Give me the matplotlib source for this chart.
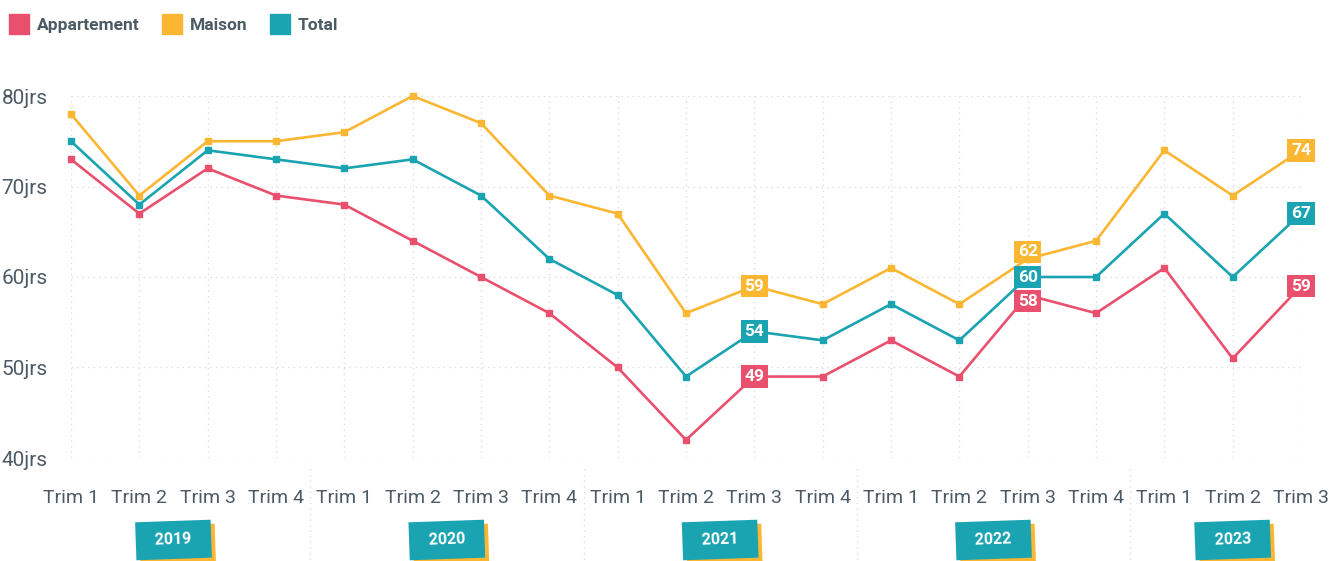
import matplotlib.pyplot as plt
import matplotlib.transforms as mtransforms
from matplotlib.lines import Line2D
import numpy as np

plt.rcParams['font.family'] = ['Roboto', 'DejaVu Sans']

# Data
quarters = ["Trim 1", "Trim 2", "Trim 3", "Trim 4"] * 4 + ["Trim 1", "Trim 2", "Trim 3"]
years = ["2019", "2020", "2021", "2022", "2023"]
year_quarters = [4, 4, 4, 4, 3]
appartement = [73, 67, 72, 69, 68, 64, 60, 56, 50, 42, 49, 49, 53, 49, 58, 56, 61, 51, 59]
maison = [78, 69, 75, 75, 76, 80, 77, 69, 67, 56, 59, 57, 61, 57, 62, 64, 74, 69, 74]
total = [75, 68, 74, 73, 72, 73, 69, 62, 58, 49, 54, 53, 57, 53, 60, 60, 67, 60, 67]
labelled = [10, 14, 18]

RED = "#e9506e"
YELLOW = "#fbb632"
TEAL = "#1aa3b0"
TXT = "#4b5a64"
GRID = "#dcdcdc"

W, H = 1336, 561
fig = plt.figure(figsize=(W / 100, H / 100), dpi=100)
ax = fig.add_axes([71 / W, 103 / H, 1230 / W, 362 / H])

x = np.arange(len(quarters))
series = [("Appartement", appartement, RED), ("Maison", maison, YELLOW), ("Total", total, TEAL)]
for name, vals, col in series:
    ax.plot(x, vals, color=col, lw=1.9, marker='s', ms=4.5, clip_on=False, zorder=3, label=name)

# value labels (nudged apart where they would collide)
offs = {(14, "Maison"): 7, (14, "Appartement"): -6}
for name, vals, col in series:
    for i in labelled:
        dy = offs.get((i, name), 0)
        tr = mtransforms.offset_copy(ax.transData, fig=fig, x=0, y=dy, units='dots')
        ax.text(x[i], vals[i], str(vals[i]), transform=tr, ha='center', va='center',
                fontsize=12.5, fontweight='bold', color='white', zorder=5,
                bbox=dict(boxstyle='square,pad=0.22', fc=col, ec='none'))

ax.set_xlim(0, len(quarters) - 1)
ax.set_ylim(40, 80)
ax.set_yticks([40, 50, 60, 70, 80])
ax.set_yticklabels([f"{v}jrs" for v in [40, 50, 60, 70, 80]])
ax.set_xticks(x)
ax.set_xticklabels(quarters)
ax.tick_params(axis='y', length=0, pad=17, labelsize=15, labelcolor=TXT)
ax.tick_params(axis='x', length=0, pad=22, labelsize=14, labelcolor=TXT)
ax.grid(True, color=GRID, ls=(0, (1, 3)), lw=1)
for s in ax.spines.values():
    s.set_visible(False)

# year separators and year boxes
bt = mtransforms.blended_transform_factory(ax.transData, ax.transAxes)
start = 0
for k, (yr, n) in enumerate(zip(years, year_quarters)):
    if k > 0:
        ax.plot([start - 0.5, start - 0.5], [-0.03, -0.3], transform=bt, color=GRID,
                ls=(0, (1, 3)), lw=1, clip_on=False)
    cx = start + (n - 1) / 2
    shadow = mtransforms.offset_copy(bt, fig=fig, x=4, y=-4, units='dots')
    for tr, fc, tc in [(shadow, YELLOW, YELLOW), (bt, TEAL, 'white')]:
        ax.text(cx, -0.2265, "  " + yr + "  ", transform=tr, ha='center', va='center',
                fontsize=11.5, fontweight='bold', color=tc, rotation=2, clip_on=False,
                bbox=dict(boxstyle='square,pad=0.72', fc=fc, ec='none'))
    start += n

handles = [Line2D([], [], color=c, marker='s', ls='none', ms=14.5) for _, _, c in series]
leg = fig.legend(handles, [n for n, _, _ in series], loc='upper left', bbox_to_anchor=(0.0, 0.99),
                 ncol=3, frameon=False, handlelength=0.8, handletextpad=0.6, columnspacing=1.5,
                 prop=dict(size=12.5, weight='bold'), borderaxespad=0.3)
for t in leg.get_texts():
    t.set_color(TXT)

fig.savefig("out.png", dpi=100)
